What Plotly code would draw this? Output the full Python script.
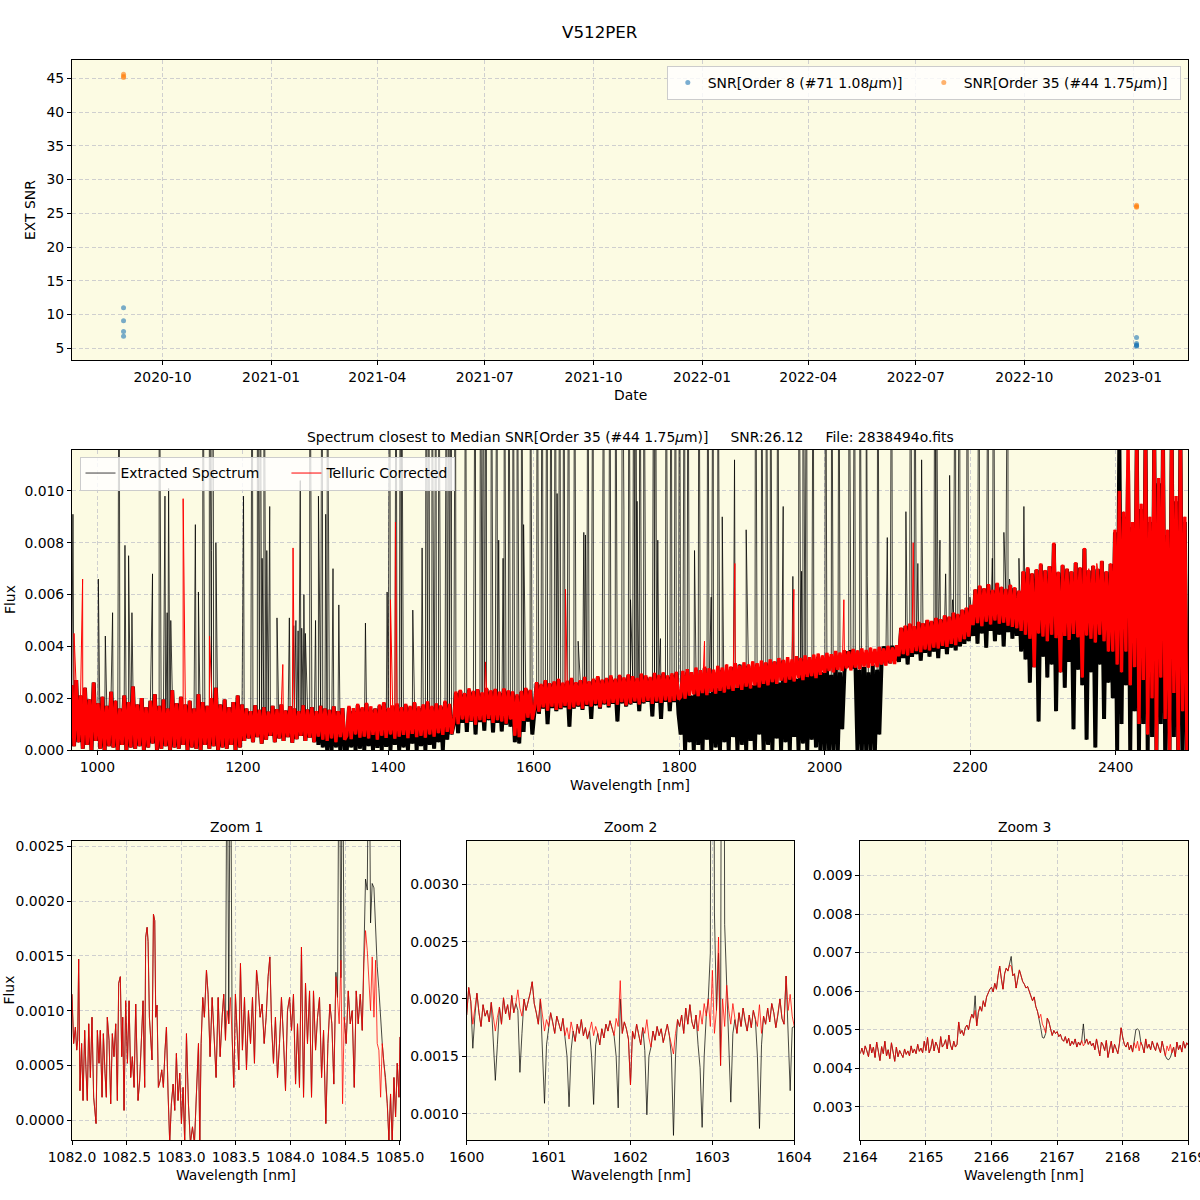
import numpy as np
import plotly.graph_objects as go

# ---------------- Top panel: SNR vs date ----------------
dates_o8 = ["2020-08-29", "2020-08-29", "2020-08-29", "2020-08-29",
            "2023-01-04", "2023-01-04", "2023-01-04", "2023-01-04", "2023-01-04"]
snr_o8 = [11.0, 9.1, 7.5, 6.8, 6.6, 5.7, 5.5, 5.4, 5.3]
dates_o35 = ["2020-08-29", "2020-08-29", "2020-08-29",
             "2023-01-04", "2023-01-04", "2023-01-04"]
snr_o35 = [45.6, 45.3, 45.1, 26.2, 26.0, 25.9]

# ---------------- Full spectrum (flux in units of 1e-5), 3 nm sampling from 965 nm ----------------
WL_START = 965.0
WL_STEP = 3.0
red_main_e5 = [
    250, 15, 270, 30, 210, 5, 240, 20, 195, 0, 260, 35,
    180, 5, 205, 0, 170, 15, 225, 10, 190, 0, 160, 20, 210, 0, 185, 10, 245, 5, 175, 15,
    200, 0, 165, 10, 190, 25, 215, 0, 170, 5, 195, 15, 160, 0, 230, 10, 180, 5, 205, 20,
    175, 0, 190, 10, 160, 5, 215, 0, 185, 20, 170, 5, 200, 15, 240, 0, 175, 10, 195, 5,
    165, 20, 185, 0, 210, 10, 175,
    35, 160, 45, 150, 30, 172, 50, 155, 25, 165, 40, 148, 55, 170, 30, 158, 45, 175, 35, 152,
    50, 168, 28, 160, 42, 150, 55, 172, 35, 156, 48, 165, 30, 150, 52, 170, 40, 160, 35, 155,
    45, 168, 30, 150, 50, 162, 40,
    55, 170, 42, 162, 60, 178, 48, 165, 52, 182, 45, 168, 58, 160, 40, 175, 55, 185, 47, 163,
    60, 172, 44, 180, 52, 165, 58, 178, 46, 170, 62, 185, 50, 168, 55, 176, 48, 188, 60, 170,
    52, 180, 65, 172, 58, 190, 70, 178, 62,
    110, 225, 100, 232, 118, 220, 105, 238, 112, 228, 98, 235, 115, 222, 108, 240, 120, 230, 105, 236,
    115, 225, 110, 238, 102, 230, 118, 226, 55, 215, 50, 228, 112, 240, 125, 232, 118,
    160, 262, 148, 255, 165, 270, 152, 258, 168, 265, 155, 275, 162, 260, 170, 268, 158, 278, 165, 262,
    172, 270, 160, 282, 175, 266, 168, 275, 178, 285, 165, 272, 180, 278, 170, 288, 182, 275, 175, 290,
    185, 280, 172, 292, 180, 285, 188, 278, 176, 295, 185, 288, 190, 282, 178, 298, 188, 290, 182, 300,
    192, 288, 185, 296, 190, 302, 195,
    205, 305, 198, 312, 210, 300, 215, 318, 208, 308, 220, 322, 212, 315, 225, 310, 218, 325, 228, 318,
    222, 330, 235, 322, 228, 335, 240, 326, 232, 338, 245, 330, 238, 342, 250, 335, 242, 345, 255, 338,
    250, 350, 262, 342, 255, 355, 268, 348, 260, 358, 272, 350, 265, 362, 278, 355, 270, 365, 282, 358,
    285, 368, 278, 372, 290, 365,
    298, 375, 305, 370, 300, 382, 310, 376, 305, 385, 315, 380, 308, 390, 318, 384, 312, 392, 322, 386,
    318, 395, 325, 390, 320, 398, 330, 392, 326, 402, 335, 396, 332, 405,
    362, 472, 370, 480, 365, 488, 375, 478, 382, 495, 378, 490, 388, 502, 385, 498, 395, 510, 392, 505,
    402, 520, 398, 515, 410, 530, 405, 525, 418, 542, 428, 550, 438,
    560, 482, 620, 490, 635, 478, 625, 495, 640, 485, 618, 500, 645, 488, 630, 492, 622, 480, 638, 475,
    628, 470, 615, 460,
    690, 445, 705, 430, 682, 320, 698, 450, 720, 438, 695, 420, 710, 445, 800, 432, 688, 300, 715, 440,
    700, 425, 690, 448, 725, 435, 705, 280, 780, 442, 695, 430, 712, 415, 700, 445, 730, 420, 690, 380, 720,
    380, 850, 330, 1000, 300, 920, 380, 1200, 250, 880, 320, 1200, 100, 950, 270, 1200, 60, 900, 200, 1200,
    0, 1050, 280, 1200, 120, 850, 0, 1200, 220, 980, 0, 1200, 150, 900, 0,
]
black_main_e5 = [
    250, 15, 270, 30, 210, 5, 240, 20, 195, 0, 260, 35,
    180, 5, 205, 0, 170, 15, 225, 10, 190, 0, 160, 20, 210, 0, 185, 10, 245, 5, 175, 15,
    200, 0, 165, 10, 190, 25, 215, 0, 170, 5, 195, 15, 160, 0, 230, 10, 180, 5, 205, 20,
    175, 0, 190, 10, 160, 5, 215, 0, 185, 20, 170, 5, 200, 15, 240, 0, 175, 10, 195, 5,
    165, 20, 185, 0, 210, 10, 175,
    35, 160, 45, 150, 30, 172, 50, 155, 25, 165, 40, 148, 55, 170, 30, 158, 45, 175, 35, 152,
    50, 168, 28, 160, 42, 150, 55, 172, 35, 156, 48, 165, 30, 150, 20, 170, 10, 160, 0, 155,
    0, 168, 10, 150, 0, 162, 5,
    0, 165, 10, 150, 0, 172, 5, 160, 0, 178, 15, 155, 0, 160, 8, 170, 0, 180, 12, 158,
    0, 168, 20, 175, 0, 160, 10, 172, 0, 165, 25, 180, 0, 162, 15, 170, 0, 182, 20, 165,
    5, 175, 30, 168, 0, 185, 40, 172, 60,
    100, 220, 65, 228, 105, 215, 70, 232, 110, 224, 60, 230, 108, 218, 75, 235, 115, 226, 68, 232,
    105, 220, 72, 234, 98, 226, 90, 222, 30, 210, 25, 224, 70, 236, 110, 228, 60,
    150, 258, 140, 250, 160, 265, 100, 254, 162, 260, 150, 270, 158, 255, 165, 262, 90, 272, 160, 258,
    168, 265, 155, 276, 170, 262, 120, 270, 172, 280, 160, 268, 176, 272, 165, 282, 178, 270, 110, 285,
    180, 275, 168, 288, 176, 280, 182, 272, 150, 290, 180, 282, 186, 276, 130, 292, 182, 285, 120, 295,
    186, 282, 150, 290, 185, 296, 140,
    60, 290, 0, 300, 30, 210, 0, 310, 20, 230, 0, 315, 40, 220, 0, 300, 10, 240, 0, 310,
    30, 250, 0, 320, 50, 240, 0, 330, 20, 260, 0, 325, 35, 250, 0, 330, 60, 270, 0, 335,
    20, 280, 0, 340, 45, 260, 0, 345, 30, 290, 0, 340, 50, 275, 0, 350, 25, 300, 0, 345,
    40, 310, 10, 360, 0, 300,
    0, 330, 0, 290, 0, 320, 0, 300, 80,
    300, 380, 320, 385, 315, 360,
    0, 310, 0, 320, 0, 300, 0, 330, 0, 310, 60,
    330, 400, 340, 395, 335, 402, 345, 396,
    340, 470, 355, 478, 330, 485, 360, 476, 370, 492, 345, 488, 375, 500, 360, 495, 380, 508, 355, 502,
    390, 518, 370, 512, 395, 528, 385, 522, 400, 540, 410, 548, 420,
    555, 440, 618, 410, 632, 450, 622, 395, 638, 460, 615, 420, 642, 445, 628, 400, 620, 455, 635, 430,
    625, 440, 612, 380,
    688, 350, 700, 260, 680, 320, 695, 110, 716, 360, 692, 280, 708, 330, 795, 150, 685, 300, 712, 240,
    698, 340, 688, 80, 722, 310, 702, 250, 776, 40, 692, 300, 710, 10, 698, 330, 728, 120, 688, 260, 718,
    200, 840, 0, 1200, 100, 900, 250, 1080, 0, 860, 150, 1200, 0, 930, 100, 1200, 0, 880, 50, 1200,
    0, 1030, 100, 1200, 0, 830, 0, 1200, 50, 960, 0, 1200, 0, 880, 0,
]

# narrow emission spikes in the extracted spectrum (wavelength nm, flux 1e-5; 2000 = off scale)
black_spike_wl = [
    966.5, 1001.4, 1011, 1021, 1030, 1038, 1043, 1047.6, 1075.9, 1085, 1093, 1096, 1098, 1101,
    1134.8, 1139, 1145, 1154, 1157, 1159, 1163, 1201, 1213, 1220, 1224, 1226.6, 1229, 1233, 1237,
    1247, 1264, 1270, 1273, 1276, 1279, 1281, 1284, 1286, 1292, 1300, 1304, 1309, 1314, 1316, 1324,
    1332, 1368.6, 1398.4, 1402, 1410.7, 1416.7, 1418, 1433.7, 1446.5, 1452, 1455.7, 1460, 1465.7,
    1469.3, 1478.6, 1480, 1483.6, 1486.8, 1492.3, 1506, 1519.8, 1526.7, 1531, 1534.8, 1541.8, 1549.6,
    1551.8, 1557.8, 1559.6, 1565.5, 1571.5, 1577.1, 1583, 1586, 1595.2, 1604.6, 1611.5, 1618.4,
    1623.9, 1629.8, 1632.1, 1635.8, 1641.3, 1648.2, 1656, 1661, 1668.8, 1671, 1674.3, 1681.6,
    1696.3, 1704.6, 1712.4, 1721.6, 1723.9, 1730.8, 1733, 1736.7, 1737.6, 1739.9, 1742, 1743,
    1745.8, 1751.3, 1765, 1767.3, 1770.5, 1774.2, 1782, 1788.9, 1794.9, 1800.4, 1807.3, 1811.9,
    1821, 1827, 1839.3, 1843.9, 1846.6, 1853, 1859.1, 1876, 1892, 1904.9, 1913, 1919.9, 1925.5,
    1934.6, 1935.5, 1942.9, 1956.2, 1964.5, 1968.2, 1970, 1975, 1984.2, 2001.2, 2009.5, 2019.5,
    2033.3, 2041, 2048.4, 2057, 2058.5, 2073, 2086, 2092, 2111.6, 2117, 2118, 2123.6, 2128, 2133.2,
    2151.5, 2153, 2158.4, 2166.2, 2171.7, 2175.7, 2179.9, 2185.5, 2196, 2199.7, 2212, 2224.9,
    2230.4, 2231.8, 2246.3, 2251.8, 2254, 2267, 2273.8,
]
black_spike_e5 = [
    910, 660, 440, 530, 2000, 790, 750, 530, 680, 2000, 980, 530, 1010, 500,
    870, 610, 2000, 2000, 770, 2000, 800, 980, 2000, 2000, 2000, 740, 2000, 770, 940,
    510, 510, 480, 500, 460, 1040, 470, 600, 450, 2000, 500, 980, 2000, 910, 2000, 700,
    560, 490, 610, 2000, 2000, 2000, 2000, 540, 780, 2000, 2000, 2000, 2000,
    2000, 960, 2000, 2000, 2000, 2000, 2000, 2000, 2000, 2000, 2000, 2000, 2000,
    810, 740, 2000, 2000, 2000, 2000, 2000, 870, 2000, 2000, 2000, 2000,
    2000, 2000, 990, 2000, 2000, 2000, 2000, 420, 840, 830, 2000, 2000,
    2000, 2000, 2000, 2000, 930, 2000, 580, 790, 2000, 2000, 960, 610,
    2000, 2000, 2000, 2000, 810, 430, 2000, 2000, 2000, 2000, 2000, 2000,
    770, 2000, 2000, 590, 2000, 2000, 900, 1120, 850, 2000, 2000, 2000, 2000,
    1000, 2000, 940, 670, 2000, 690, 2000, 2000, 2000, 2000, 2000, 2000,
    2000, 2000, 2000, 2000, 670, 2000, 820, 2000, 920, 810, 2000, 2000, 720, 1120,
    2000, 2000, 810, 680, 1060, 580, 2000, 2000, 2000, 590, 2000, 2000,
    740, 2000, 840, 2000, 660, 740, 940,
]
red_spike_wl = [968, 979.8, 1118, 1154.3, 1255, 1269.1, 1403, 1409.9, 1533.6, 1643.6,
                1834.7, 1876.4, 1957.6, 2026.3, 2121.6, 2294, 2299, 2332, 2363, 2374]
red_spike_e5 = [450, 660, 970, 440, 330, 780, 580, 880, 340, 620,
                420, 720, 620, 580, 800, 670, 650, 650, 700, 720]

# ---------------- Zoom 1 (He I 1083 nm region) ----------------
z1_wl = [
    1082.000, 1082.015, 1082.031, 1082.043, 1082.052, 1082.061, 1082.073, 1082.088, 1082.101, 1082.116,
    1082.128, 1082.140, 1082.153, 1082.168, 1082.183, 1082.198, 1082.220, 1082.232, 1082.247, 1082.259,
    1082.275, 1082.287, 1082.302, 1082.314, 1082.323, 1082.339, 1082.354, 1082.369, 1082.384, 1082.400,
    1082.415, 1082.427, 1082.442, 1082.455, 1082.464, 1082.476, 1082.491, 1082.507, 1082.522, 1082.537,
    1082.552, 1082.568, 1082.583, 1082.604, 1082.619, 1082.635, 1082.650, 1082.665, 1082.674, 1082.687,
    1082.696, 1082.708, 1082.720, 1082.732, 1082.745, 1082.757, 1082.766, 1082.778, 1082.790, 1082.806,
    1082.821, 1082.836, 1082.851, 1082.864, 1082.879, 1082.894, 1082.909, 1082.925, 1082.940, 1082.955,
    1082.970, 1082.986, 1083.001, 1083.016, 1083.031, 1083.047, 1083.065, 1083.083, 1083.102, 1083.120,
    1083.138, 1083.157, 1083.169, 1083.181, 1083.196, 1083.211, 1083.230, 1083.245, 1083.263, 1083.282,
    1083.300, 1083.318, 1083.337, 1083.355, 1083.373, 1083.388, 1083.404, 1083.419, 1083.434, 1083.449,
    1083.465, 1083.480, 1083.495, 1083.511, 1083.526, 1083.541, 1083.559, 1083.578, 1083.596, 1083.614,
    1083.633, 1083.651, 1083.669, 1083.688, 1083.703, 1083.721, 1083.739, 1083.758, 1083.776, 1083.794,
    1083.810, 1083.825, 1083.843, 1083.861, 1083.880, 1083.898, 1083.916, 1083.935, 1083.953, 1083.971,
    1083.990, 1084.008, 1084.026, 1084.045, 1084.063, 1084.081, 1084.099, 1084.118, 1084.136, 1084.154,
    1084.173, 1084.191, 1084.209, 1084.228, 1084.246, 1084.264, 1084.283, 1084.301, 1084.322, 1084.341,
    1084.359, 1084.377, 1084.395, 1084.414, 1084.429, 1084.444, 1084.460, 1084.475, 1084.490, 1084.508,
    1084.527, 1084.545, 1084.563, 1084.582, 1084.600, 1084.618, 1084.637, 1084.655, 1084.670, 1084.685,
    1084.701, 1084.716, 1084.731, 1084.746, 1084.762, 1084.777, 1084.792, 1084.807, 1084.823, 1084.838,
    1084.853, 1084.868, 1084.884, 1084.899, 1084.914, 1084.929, 1084.945, 1084.960, 1084.975, 1084.991,
    1085.000,
]
z1_red_e5 = [
    115, 70, 85, 64, 73, 147, 27, 70, 18, 82,
    46, 18, 88, 39, 94, 21, -3, 82, 52, 82,
    21, 79, 43, 21, 94, 73, 15, 79, 58, 88,
    18, 125, 131, 58, 94, 9, 109, 52, 109, 39,
    58, 30, 106, 18, 36, 70, 109, 30, 167, 176,
    163, 94, 70, 55, 188, 182, 94, 105, 30, 36,
    46, 30, 64, 85, 24, -21, 15, 33, 9, 61,
    18, 43, -3, 30, -21, 79, 15, -21, -6, -21,
    24, 70, -21, 70, 112, 94, 137, 115, 58, 112,
    76, 39, 112, 58, 94, 115, 73, 100, 88, 112,
    76, 30, 115, 73, 46, 143, 64, 112, 46, 100,
    70, 112, 52, 137, 122, 94, 106, 70, 94, 131,
    149, 88, 52, 94, 39, 70, 112, 73, 27, 100,
    112, 82, 115, 33, 88, 30, 158, 21, 125, 70,
    118, 21, 118, 64, 94, 112, 39, 82, -3, 70,
    106, 88, 33, 131, 112, 88, 146, 15, 94, 70,
    118, 88, 100, 30, 118, 88, 115, 82, 143, 173,
    155, 131, 100, 149, 94, 146, 70, 64, 21, 70,
    52, 39, 15, -18, 24, -21, 39, 3, 52, 21,
    76,
]
z1_black_e5 = [
    115, 70, 85, 64, 73, 147, 27, 70, 18, 82,
    46, 18, 88, 39, 94, 21, -3, 82, 52, 82,
    21, 79, 43, 21, 94, 73, 15, 79, 58, 88,
    18, 125, 131, 58, 94, 9, 109, 52, 109, 39,
    58, 30, 106, 18, 36, 70, 109, 30, 167, 176,
    163, 94, 70, 55, 188, 182, 94, 105, 30, 36,
    46, 30, 64, 85, 24, -21, 15, 33, 9, 61,
    18, 43, -3, 30, -21, 79, 15, -21, -6, -21,
    24, 70, -21, 70, 112, 94, 137, 115, 58, 112,
    76, 39, 112, 58, 94, 115, 73, 400, 88, 400,
    76, 30, 115, 73, 46, 143, 64, 112, 46, 100,
    70, 112, 52, 137, 122, 94, 106, 70, 94, 131,
    149, 88, 52, 94, 39, 70, 112, 73, 27, 100,
    112, 82, 115, 33, 88, 30, 158, 21, 125, 70,
    118, 21, 118, 64, 94, 112, 39, 82, -3, 70,
    106, 88, 33, 135, 112, 400, 130, 400, 94, 70,
    118, 88, 100, 30, 118, 88, 115, 82, 143, 220,
    210, 400, 180, 216, 212, 170, 140, 120, 90, 70,
    52, 39, 15, -18, 24, -21, 39, 3, 52, 21,
    76,
]

# ---------------- Zoom 2 (1600-1604 nm), 0.025 nm sampling ----------------
Z2_START, Z2_STEP = 1600.0, 0.025
z2_red_e5 = [
    186, 210, 198, 178, 192, 205, 188, 176, 195, 185, 190, 180, 197, 186, 172, 184, 193, 178, 201, 187,
    195, 182, 203, 188, 196, 208, 192, 185, 200, 190, 197, 205, 215, 196, 188, 178, 200, 185, 172, 182,
    176, 188, 180, 170, 185, 178, 172, 183, 168, 175, 165, 180, 172, 163, 178, 170, 182, 168, 175, 165,
    172, 180, 168, 176, 170, 160, 174, 166, 178, 172, 181, 175, 168, 183, 176, 216, 170, 180, 174, 165,
    125, 172, 165, 178, 168, 160, 175, 170, 182, 166, 158, 172, 164, 176, 168, 174, 162, 170, 178, 168,
    160, 152, 170, 182, 176, 186, 170, 192, 178, 195, 180, 174, 186, 172, 190, 178, 196, 185, 200, 176,
    225, 170, 190, 254, 142, 200, 176, 212, 190, 178, 196, 182, 170, 188, 176, 192, 180, 172, 186, 175,
    190, 182, 176, 195, 170, 185, 178, 192, 180, 196, 188, 175, 186, 200, 183, 178, 220, 190, 204, 185, 176,
]
z2_black_e5 = [
    186, 210, 198, 157, 185, 205, 188, 176, 195, 185, 190, 180, 197, 165, 129, 160, 193, 178, 201, 187,
    195, 182, 203, 188, 196, 190, 136, 170, 200, 190, 197, 205, 215, 196, 188, 178, 200, 150, 109, 160,
    176, 188, 180, 170, 185, 178, 172, 183, 168, 150, 106, 155, 172, 163, 178, 170, 182, 168, 175, 165,
    172, 150, 108, 160, 170, 160, 174, 166, 178, 172, 181, 175, 168, 150, 105, 200, 170, 180, 174, 165,
    125, 172, 165, 178, 168, 160, 175, 155, 99, 150, 158, 172, 164, 176, 168, 174, 162, 170, 178, 168,
    150, 81, 150, 182, 176, 186, 170, 192, 178, 195, 180, 174, 186, 160, 140, 88, 150, 185, 200, 240,
    1000, 275, 190, 240, 142, 1000, 265, 212, 160, 110, 170, 182, 170, 188, 176, 192, 180, 172, 186, 175,
    190, 182, 150, 87, 160, 185, 178, 192, 180, 196, 188, 175, 186, 200, 183, 178, 220, 160, 120, 175, 176,
]

# ---------------- Zoom 3 (Br-gamma 2166 nm), 0.025 nm sampling ----------------
Z3_START, Z3_STEP = 2164.0, 0.025
z3_red_e5 = [
    438, 452, 436, 458, 445, 430, 462, 440, 455, 428, 468, 442, 420, 456, 438, 470, 432, 448, 425, 466,
    440, 418, 455, 430, 446, 438, 428, 450, 436, 445, 432, 458, 440, 450, 438, 462, 444, 452, 440, 470,
    446, 480, 440, 452, 476, 445, 468, 458, 440, 482, 455, 462, 474, 450, 486, 460, 448, 470, 455, 462,
    520, 490, 498, 485, 505, 512, 500, 525, 540, 530, 550, 510, 545, 560, 548, 575, 560, 585, 598, 605,
    610, 598, 620, 605, 640, 665, 632, 605, 645, 660, 652, 668, 665, 640, 645, 608, 632, 655, 640, 625,
    618, 608, 612, 598, 590, 575, 585, 560, 548, 530, 540, 515, 505, 492, 530, 520, 502, 485, 498, 490,
    495, 482, 488, 475, 470, 482, 465, 478, 458, 470, 462, 476, 455, 468, 460, 472, 458, 465, 476, 462,
    470, 458, 465, 448, 476, 455, 432, 468, 460, 446, 472, 428, 455, 470, 440, 462, 450, 438, 465, 505,
    480, 462, 455, 468, 448, 460, 442, 466, 452, 470, 445, 468, 458, 440, 476, 452, 462, 448, 470, 455,
    446, 466, 452, 440, 470, 448, 432, 458, 445, 462, 440, 455, 430, 468, 448, 460, 442, 470, 452, 466,
    460,
]
z3_black_e5 = [
    438, 452, 436, 458, 445, 430, 462, 440, 455, 428, 468, 442, 420, 456, 438, 470, 432, 448, 425, 466,
    440, 418, 455, 430, 446, 438, 428, 450, 436, 445, 432, 458, 440, 450, 438, 462, 444, 452, 440, 470,
    446, 480, 440, 452, 476, 445, 468, 458, 440, 482, 455, 462, 474, 450, 486, 460, 448, 470, 455, 462,
    520, 490, 498, 485, 505, 512, 500, 525, 540, 530, 588, 510, 545, 560, 548, 575, 560, 585, 598, 605,
    610, 598, 620, 605, 640, 665, 632, 605, 645, 660, 652, 668, 690, 640, 645, 608, 632, 655, 640, 625,
    618, 608, 612, 598, 590, 575, 585, 560, 548, 530, 505, 480, 478, 490, 530, 520, 502, 485, 498, 490,
    495, 482, 488, 475, 470, 482, 465, 478, 458, 470, 462, 476, 455, 468, 460, 472, 515, 465, 476, 462,
    470, 458, 465, 448, 476, 455, 432, 468, 460, 446, 472, 428, 455, 470, 440, 462, 450, 438, 465, 505,
    480, 462, 455, 468, 448, 460, 442, 466, 500, 502, 498, 468, 458, 440, 476, 452, 462, 448, 470, 455,
    446, 466, 452, 440, 470, 448, 432, 424, 422, 428, 440, 455, 430, 468, 448, 460, 442, 470, 452, 466,
    460,
]

# ---------------- helpers ----------------
E5 = 1e-5


def grid(start, step, n):
    return start + step * np.arange(n)


def merge(wl, f, sp_wl, sp_f):
    x = np.concatenate([np.asarray(wl, float), np.asarray(sp_wl, float)])
    y = np.concatenate([np.asarray(f, float), np.asarray(sp_f, float)]) * E5
    o = np.argsort(x, kind="stable")
    return x[o], y[o]


b_wl = grid(WL_START, WL_STEP, len(black_main_e5))
r_wl = grid(WL_START, WL_STEP, len(red_main_e5))
bx, by = merge(b_wl, black_main_e5, black_spike_wl, black_spike_e5)
rx, ry = merge(r_wl, red_main_e5, red_spike_wl, red_spike_e5)

FONT = "DejaVu Sans"
FS = 13.9
NB = "\u00a0"

fig = go.Figure()

# top panel
fig.add_trace(go.Scatter(x=dates_o8, y=snr_o8, mode="markers", name="SNR[Order 8 (#71 1.08<i>μ</i>m)]",
                         marker=dict(color="#1f77b4", size=5, opacity=0.6), xaxis="x", yaxis="y",
                         legend="legend"))
fig.add_trace(go.Scatter(x=dates_o35, y=snr_o35, mode="markers", name="SNR[Order 35 (#44 1.75<i>μ</i>m)]",
                         marker=dict(color="#ff7f0e", size=5, opacity=0.6), xaxis="x", yaxis="y",
                         legend="legend"))

# middle panel: dense noise body drawn thicker, then the same series thin (with its narrow lines)
fig.add_trace(go.Scatter(x=b_wl, y=np.asarray(black_main_e5, float) * E5, mode="lines", showlegend=False,
                         line=dict(color="black", width=4.0), xaxis="x2", yaxis="y2", hoverinfo="skip"))
fig.add_trace(go.Scatter(x=bx, y=by, mode="lines", name="Extracted Spectrum" + NB * 5,
                         line=dict(color="rgba(0,0,0,0.85)", width=0.9), xaxis="x2", yaxis="y2",
                         legend="legend2"))
fig.add_trace(go.Scatter(x=r_wl, y=np.asarray(red_main_e5, float) * E5, mode="lines", showlegend=False,
                         line=dict(color="red", width=3.4), xaxis="x2", yaxis="y2", hoverinfo="skip"))
fig.add_trace(go.Scatter(x=rx, y=ry, mode="lines", name="Telluric Corrected",
                         line=dict(color="red", width=1.0), xaxis="x2", yaxis="y2", legend="legend2"))

# zooms
z_sets = [
    (np.asarray(z1_wl), z1_black_e5, z1_red_e5, "x3", "y3"),
    (grid(Z2_START, Z2_STEP, len(z2_red_e5)), z2_black_e5, z2_red_e5, "x4", "y4"),
    (grid(Z3_START, Z3_STEP, len(z3_red_e5)), z3_black_e5, z3_red_e5, "x5", "y5"),
]
for wl, blk, red, xa, ya in z_sets:
    fig.add_trace(go.Scatter(x=wl, y=np.asarray(blk, float) * E5, mode="lines", showlegend=False,
                             line=dict(color="rgba(0,0,0,0.8)", width=0.9), xaxis=xa, yaxis=ya))
    fig.add_trace(go.Scatter(x=wl, y=np.asarray(red, float) * E5, mode="lines", showlegend=False,
                             line=dict(color="rgba(255,0,0,0.85)", width=0.9), xaxis=xa, yaxis=ya))

axis_common = dict(showline=True, mirror=True, linecolor="black", linewidth=1, ticks="outside",
                   ticklen=4, tickcolor="black", tickwidth=1, showgrid=True, gridcolor="#cfcfcf",
                   gridwidth=0.8, griddash="4px,2.5px", zeroline=False, automargin=False,
                   tickfont=dict(family=FONT, size=FS, color="black"))

fig.update_layout(
    width=1200, height=1200, margin=dict(l=0, r=0, t=0, b=0, pad=0, autoexpand=False),
    paper_bgcolor="white", plot_bgcolor="#fcfbe3",
    font=dict(family=FONT, size=FS, color="black"),
    xaxis=dict(domain=[0.06, 0.99], anchor="y", type="date",
               range=["2020-07-16 08:00", "2023-02-16 14:00"], tick0="2020-10-01", dtick="M3",
               tickformat="%Y-%m", **axis_common),
    yaxis=dict(domain=[0.70, 0.95], anchor="x", range=[3.27, 47.71],
               tickvals=[5, 10, 15, 20, 25, 30, 35, 40, 45], **axis_common),
    xaxis2=dict(domain=[0.06, 0.99], anchor="y2", range=[965.2, 2499.4],
                tickvals=[1000, 1200, 1400, 1600, 1800, 2000, 2200, 2400], **axis_common),
    yaxis2=dict(domain=[0.375, 0.625], anchor="x2", range=[0, 0.01158],
                tickvals=[0, 0.002, 0.004, 0.006, 0.008, 0.010], tickformat=".3f", **axis_common),
    xaxis3=dict(domain=[0.06, 0.3333], anchor="y3", range=[1082, 1085],
                tickvals=[1082.0, 1082.5, 1083.0, 1083.5, 1084.0, 1084.5, 1085.0], tickformat=".1f",
                **axis_common),
    yaxis3=dict(domain=[0.05, 0.2994], anchor="x3", range=[-0.00018, 0.00255],
                tickvals=[0, 0.0005, 0.0010, 0.0015, 0.0020, 0.0025], tickformat=".4f", **axis_common),
    xaxis4=dict(domain=[0.3889, 0.6619], anchor="y4", range=[1600, 1604],
                tickvals=[1600, 1601, 1602, 1603, 1604], **axis_common),
    yaxis4=dict(domain=[0.05, 0.2994], anchor="x4", range=[0.00077, 0.00338],
                tickvals=[0.0010, 0.0015, 0.0020, 0.0025, 0.0030], tickformat=".4f", **axis_common),
    xaxis5=dict(domain=[0.7169, 0.9903], anchor="y5", range=[2164, 2169],
                tickvals=[2164, 2165, 2166, 2167, 2168, 2169], ticklabeloverflow="allow",
                **axis_common),
    yaxis5=dict(domain=[0.05, 0.2994], anchor="x5", range=[0.00214, 0.0099],
                tickvals=[0.003, 0.004, 0.005, 0.006, 0.007, 0.008, 0.009], tickformat=".3f",
                **axis_common),
    legend=dict(x=0.984, y=0.945, xanchor="right", yanchor="top", orientation="h",
                bgcolor="rgba(255,255,255,0.8)", bordercolor="#cccccc", borderwidth=1,
                font=dict(family=FONT, size=FS), entrywidth=211, itemwidth=30),
    legend2=dict(x=79.5 / 1200, y=1 - 456.5 / 1200, xanchor="left", yanchor="top", orientation="h",
                 bgcolor="rgba(255,255,255,0.8)", bordercolor="#cccccc", borderwidth=1,
                 font=dict(family=FONT, size=FS), itemwidth=30),
    showlegend=True,
)

annots = [
    dict(text="V512PER", x=0.5, y=1 - 32 / 1200, size=16.7),
    dict(text="Spectrum closest to Median SNR[Order 35 (#44 1.75<i>μ</i>m)]" + NB * 5 + "SNR:26.12"
         + NB * 5 + "File: 2838494o.fits", x=630 / 1200, y=1 - 437 / 1200, size=FS),
    dict(text="Date", x=630 / 1200, y=1 - 395 / 1200, size=FS),
    dict(text="EXT SNR", x=30 / 1200, y=1 - 210 / 1200, size=FS, angle=-90),
    dict(text="Wavelength [nm]", x=630 / 1200, y=1 - 785 / 1200, size=FS),
    dict(text="Flux", x=10 / 1200, y=0.5, size=FS, angle=-90),
    dict(text="Zoom 1", x=236 / 1200, y=1 - 827 / 1200, size=FS),
    dict(text="Zoom 2", x=630.5 / 1200, y=1 - 827 / 1200, size=FS),
    dict(text="Zoom 3", x=1024.3 / 1200, y=1 - 827 / 1200, size=FS),
    dict(text="Wavelength [nm]", x=236 / 1200, y=1 - 1175 / 1200, size=FS),
    dict(text="Wavelength [nm]", x=630.5 / 1200, y=1 - 1175 / 1200, size=FS),
    dict(text="Wavelength [nm]", x=1024.3 / 1200, y=1 - 1175 / 1200, size=FS),
    dict(text="Flux", x=8.5 / 1200, y=1 - 990 / 1200, size=FS, angle=-90),
]
for a in annots:
    fig.add_annotation(text=a["text"], x=a["x"], y=a["y"], xref="paper", yref="paper",
                       xanchor="center", yanchor="middle", showarrow=False,
                       textangle=a.get("angle", 0), font=dict(family=FONT, size=a["size"], color="black"))

fig.write_html("out.html", config={"displayModeBar": False},
               post_script="document.body.style.margin='0';")
